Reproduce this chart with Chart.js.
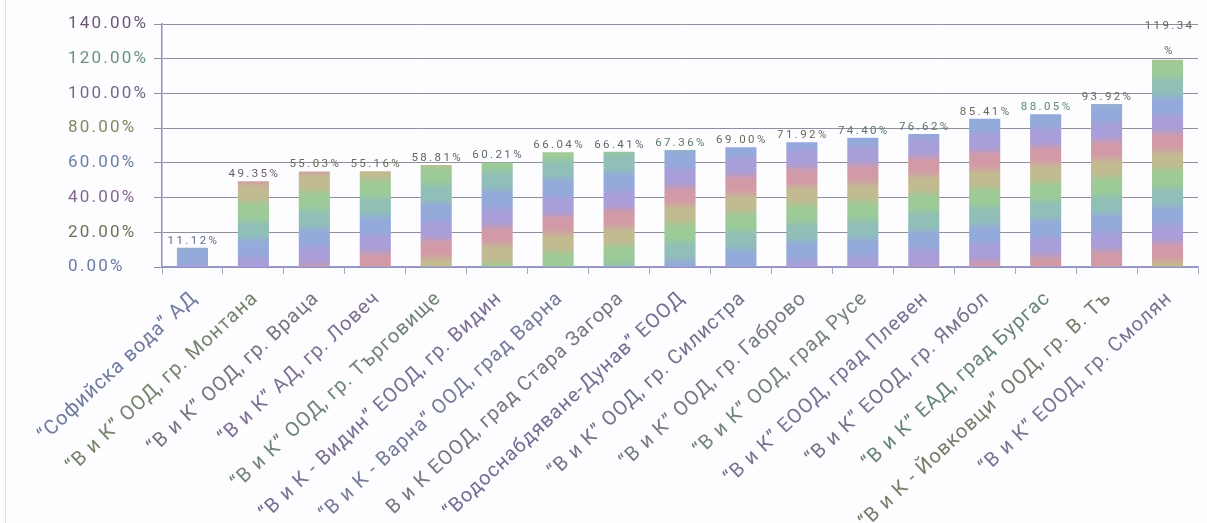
<!DOCTYPE html>
<html><head><meta charset="utf-8">
<script src="https://cdn.jsdelivr.net/npm/chart.js@4/dist/chart.umd.min.js"></script>
<style>
html,body{margin:0;padding:0;background:#fdfcfe;overflow:hidden}
#wrap{position:relative;width:1207px;height:523px}
#edge{position:absolute;left:5px;top:0;width:1px;height:523px;background:#e0e0ea}
canvas{position:absolute;left:0;top:0}
</style></head><body>
<div id="wrap"><div id="edge"></div><canvas id="c" width="1207" height="523"></canvas></div>
<script>
// ---- data ----
const categories = [
  '“Софийска вода” АД',
  '“В и К” ООД, гр. Монтана',
  '“В и К” ООД, гр. Враца',
  '“В и К” АД, гр. Ловеч',
  '“В и К” ООД, гр. Търговище',
  '“В и К - Видин” ЕООД, гр. Видин',
  '“В и К - Варна” ООД, град Варна',
  'В и К ЕООД, град Стара Загора',
  '“Водоснабдяване-Дунав” ЕООД',
  '“В и К” ООД, гр. Силистра',
  '“В и К” ООД, гр. Габрово',
  '“В и К” ООД, град Русе',
  '“В и К” ЕООД, град Плевен',
  '“В и К” ЕООД, гр. Ямбол',
  '“В и К” ЕАД, град Бургас',
  '“В и К - Йовковци” ООД, гр. В. Тъ',
  '“В и К” ЕООД, гр. Смолян'
];
const values = [11.12, 49.35, 55.03, 55.16, 58.81, 60.21, 66.04, 66.41, 67.36, 69.00, 71.92, 74.40, 76.62, 85.41, 88.05, 93.92, 119.34];
const yTickValues = [0, 20, 40, 60, 80, 100, 120, 140];

// ---- style ----
const FONT = 'Roboto';
const yTickColors = ['#6a7aa6', '#707056', '#82668e', '#6a80a6', '#7e8a60', '#6c6c8a', '#68927c', '#6c5674'];
const xLabelColors = ['#6e7aa0', '#74846a', '#747484', '#7e7094', '#708474', '#7a6e94', '#747c9a',
  '#787684', '#746e94', '#70748c', '#747a84', '#74847a', '#7a7294', '#74748c', '#68847a', '#7a7a6a', '#787494'];
const valueColors = ['#5e6a8e', '#6a5a70', '#6a6850', '#6a6a58', '#5a6a5a', '#5a6a6a', '#6a6a5a', '#5a6a6a',
  '#5a7a6a', '#6a6a5a', '#6a6a5a', '#5a7a6a', '#5a7a6a', '#6a6a5a', '#5a8a6a', '#6a6a5a', '#5a6a5a'];
const stripePalette = ['#93aadb', '#a99ed9', '#d29aa6', '#c2bb91', '#9ccb97', '#90bfb7'];
const stripePhase = [0.1, 0.17, 0.27, 0.38, 0.5, 0.62, 0.72, 0.78, 0.98, 1.08, 1.15, 1.18, 1.25, 1.3, 1.35, 1.4, 1.47];
const stripePeriod = 110;

function hex(c) { return [parseInt(c.slice(1,3),16), parseInt(c.slice(3,5),16), parseInt(c.slice(5,7),16)]; }
const palRGB = stripePalette.map(hex);
function colorAt(phase) {
  const n = palRGB.length;
  let p = (((phase % 1) + 1) % 1) * n;
  const i = Math.floor(p) % n; let f = p - Math.floor(p);
  f = Math.min(1, Math.max(0, (f - 0.2) / 0.6)); f = f * f * (3 - 2 * f);
  const a = palRGB[i], b = palRGB[(i + 1) % n];
  return 'rgb(' + a.map((v, k) => Math.round(v + (b[k] - v) * f)).join(',') + ')';
}
function barFill(ctx) {
  const chart = ctx.chart, area = chart.chartArea;
  if (!area) return stripePalette[0];
  const i = ctx.dataIndex;
  const H = area.bottom - area.top;
  const g = chart.ctx.createLinearGradient(0, area.bottom, 0, area.top);
  for (let y = 0; y <= H; y += 3) g.addColorStop(Math.min(1, y / H), colorAt(stripePhase[i] - y / stripePeriod));
  return g;
}

// per-axis letter spacing (the reference text is widely spaced)
const spacingPlugin = {
  id: 'spacing',
  afterLayout(chart) {
    const wrap = (scale, sp) => {
      if (scale._wrappedSp) return;
      const orig = scale.drawLabels;
      scale.drawLabels = function (area) {
        const c = this.ctx; const old = c.letterSpacing;
        c.letterSpacing = sp; orig.call(this, area); c.letterSpacing = old;
      };
      scale._wrappedSp = true;
    };
    wrap(chart.scales.x, '1px');
    wrap(chart.scales.y, '2.2px');
  }
};

const valueLabels = {
  id: 'valueLabels',
  afterDatasetsDraw(chart) {
    const ctx = chart.ctx;
    const meta = chart.getDatasetMeta(0);
    meta.data.forEach((bar, i) => {
      const v = values[i];
      ctx.save();
      ctx.font = '11.5px "' + FONT + '"';
      ctx.letterSpacing = '2.4px';
      ctx.textAlign = 'center';
      ctx.textBaseline = 'alphabetic';
      ctx.fillStyle = valueColors[i];
      if (v > 100) {
        ctx.fillText(v.toFixed(2), bar.x + 2, bar.y - 31);
        ctx.fillText('%', bar.x + 2, bar.y - 6);
      } else {
        ctx.fillText(v.toFixed(2) + '%', bar.x + 1, bar.y - 4);
      }
      ctx.restore();
    });
  }
};

new Chart(document.getElementById('c'), {
  type: 'bar',
  data: {
    labels: categories,
    datasets: [{
      data: values,
      backgroundColor: barFill,
      borderWidth: 0,
      barPercentage: 0.51,
      categoryPercentage: 1.0
    }]
  },
  options: {
    responsive: false,
    animation: false,
    devicePixelRatio: 1,
    layout: { padding: { top: 24, right: 9, left: 68, bottom: 0 } },
    plugins: { legend: { display: false }, tooltip: { enabled: false } },
    scales: {
      y: {
        min: 0, max: 140,
        afterBuildTicks(scale) { scale.ticks = yTickValues.map(v => ({ value: v })); },
        afterFit(scale) { scale.width = 94; },
        ticks: {
          callback: v => v.toFixed(2) + '%',
          font: { family: FONT, size: 17 },
          color: yTickColors,
          crossAlign: 'far',
          padding: 4
        },
        grid: { color: '#8e8e9e', lineWidth: 1, tickLength: 8 },
        border: { display: true, color: '#8c8cd0', width: 1.5 }
      },
      x: {
        afterFit(scale) { scale.height = 256; },
        ticks: {
          autoSkip: false,
          minRotation: 43, maxRotation: 43,
          font: { family: FONT, size: 20 },
          color: c => xLabelColors[c.index],
          padding: 13,
          labelOffset: 2
        },
        grid: { offset: true, drawOnChartArea: false, drawTicks: true, tickLength: 7, color: '#a4a4c4' },
        border: { display: true, color: '#9a9ad6', width: 1.5 }
      }
    }
  },
  plugins: [spacingPlugin, valueLabels]
});
</script>
</body></html>
